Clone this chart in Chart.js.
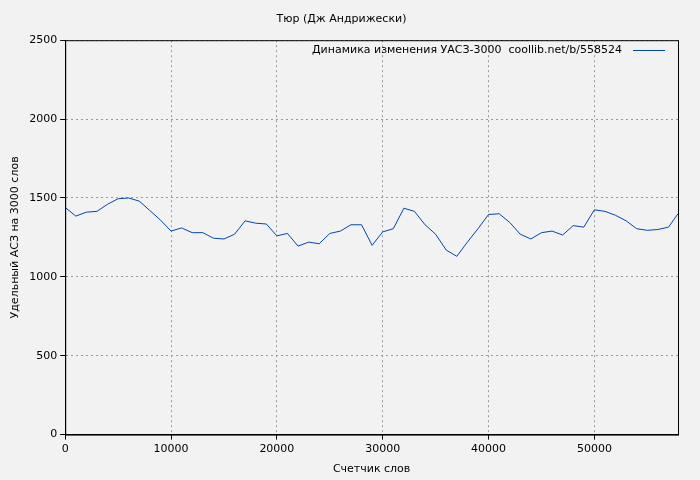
<!DOCTYPE html>
<html><head><meta charset="utf-8">
<script src="https://cdn.jsdelivr.net/npm/chart.js@4/dist/chart.umd.min.js"></script>
<style>html,body{margin:0;background:#f2f2f2}#w{width:700px;height:480px}</style>
</head><body><div id="w"><canvas id="c"></canvas></div>
<script>
const words = [0,1000,2000,3000,4000,5000,6000,7000,8000,9000,10000,11000,12000,13000,14000,15000,16000,17000,18000,19000,20000,21000,22000,23000,24000,25000,26000,27000,28000,29000,30000,31000,32000,33000,34000,35000,36000,37000,38000,39000,40000,41000,42000,43000,44000,45000,46000,47000,48000,49000,50000,51000,52000,53000,54000,55000,56000,57000,57900];
const values = [1440,1385,1410,1415,1460,1495,1500,1480,1420,1360,1290,1310,1280,1280,1245,1240,1270,1355,1340,1335,1260,1275,1195,1220,1210,1275,1290,1330,1330,1200,1285,1305,1435,1415,1330,1270,1170,1130,1220,1305,1395,1400,1345,1270,1240,1280,1290,1265,1325,1315,1425,1415,1390,1355,1305,1295,1300,1315,1400];
const yTicks = [0,500,1000,1500,2000,2500];
const xTicks = [0,10000,20000,30000,40000,50000];
const title = 'Тюр (Дж Андрижески)';
const legendText = 'Динамика изменения УАСЗ-3000  coollib.net/b/558524';
const font = 'DejaVu Sans';
const legendPlugin = {id:'lg', afterDraw(ch){const c=ch.ctx, a=ch.chartArea;c.save();c.font='11px "'+font+'"';c.fillStyle='#000';c.textAlign='right';c.textBaseline='middle';c.fillText(legendText,a.right-56,50);c.strokeStyle='#0047ab';c.lineWidth=1;c.beginPath();c.moveTo(a.right-45,50.5);c.lineTo(a.right-13,50.5);c.stroke();c.restore();}};
new Chart(document.getElementById('c'),{type:'line',
data:{datasets:[{data:words.map((x,i)=>({x,y:values[i]})),borderColor:'#0047ab',borderWidth:1,pointRadius:0,tension:0}]},
options:{responsive:true,maintainAspectRatio:false,animation:false,
layout:{padding:{top:7,right:22,left:5,bottom:0}},
plugins:{legend:{display:false},tooltip:{enabled:false},title:{display:true,text:title,color:'#000',font:{family:font,size:11,weight:'normal'},padding:{top:6,bottom:14}}},
scales:{x:{type:'linear',min:0,max:57900,afterBuildTicks:s=>{s.ticks=xTicks.map(v=>({value:v}))},
 ticks:{color:'#000',font:{family:font,size:11},maxRotation:0,callback:v=>String(v)},
 grid:{color:'#999',tickColor:'#000',tickLength:5,drawTicks:true},border:{color:'#000',dash:[2,3]},
 title:{display:true,text:'Счетчик слов',color:'#000',font:{family:font,size:11}}},
 y:{min:0,max:2500,afterBuildTicks:s=>{s.ticks=yTicks.map(v=>({value:v}))},
 ticks:{color:'#000',font:{family:font,size:11},callback:v=>String(v)},
 grid:{color:'#999',tickColor:'#000',tickLength:5},border:{color:'#000',dash:[2,3]},
 title:{display:true,text:'Удельный АСЗ на 3000 слов',color:'#000',font:{family:font,size:11}}}}},
plugins:[legendPlugin,{id:'bd',afterDraw(ch){const c=ch.ctx,a=ch.chartArea;c.save();c.strokeStyle='#000';c.lineWidth=1;c.strokeRect(a.left+0.5,a.top+0.5,a.right-a.left,a.bottom-a.top);c.restore();}}]});
</script></body></html>
